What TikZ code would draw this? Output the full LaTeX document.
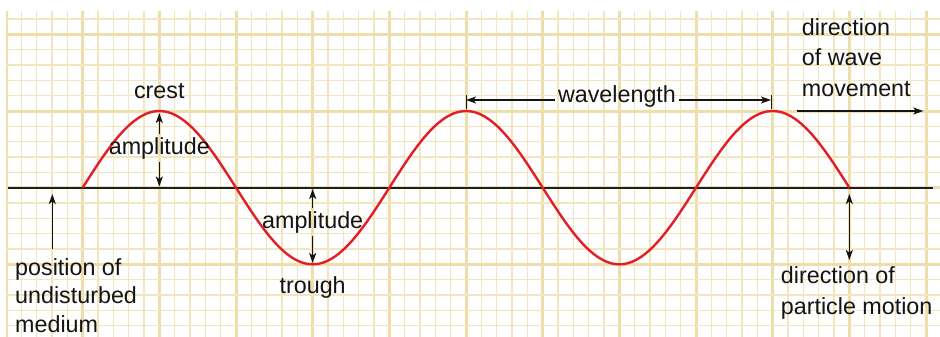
\documentclass[tikz,border=0pt]{standalone}
\usepackage{fontspec}
\setmainfont{Liberation Sans}
\usetikzlibrary{arrows.meta}
\definecolor{gridthin}{RGB}{241,230,190}
\definecolor{gridthick}{RGB}{237,222,172}
\definecolor{wavered}{RGB}{228,30,38}
\definecolor{axisgray}{RGB}{30,30,30}
\definecolor{txt}{RGB}{20,20,20}
\tikzset{
  lbl/.style={font=\fontsize{23.3}{30.5}\selectfont, text=txt, inner sep=3pt},
  arr/.style={-{Stealth[length=10pt,width=7pt,inset=2.5pt]}, line width=1.4pt, draw=txt},
  dblarr/.style={{Stealth[length=10pt,width=7pt,inset=2.5pt]}-{Stealth[length=10pt,width=7pt,inset=2.5pt]}, line width=1.4pt, draw=txt},
  tick/.style={line width=1pt, draw=txt},
}
\begin{document}
\begin{tikzpicture}[x=1pt,y=-1pt]
\useasboundingbox (0,0) rectangle (940,337);
\fill[white] (0,0) rectangle (940,337);
% grid
\begin{scope}
\clip (6,11) rectangle (940,337);
\foreach \k in {0,...,61} {
  \pgfmathsetmacro{\xx}{6+\k*15.3333}
  \pgfmathtruncatemacro{\m}{mod(\k,5)}
  \ifnum\m=0
    \draw[gridthick, line width=3pt] (\xx,11) -- (\xx,337);
  \else
    \draw[gridthin, line width=1.4pt] (\xx,11) -- (\xx,337);
  \fi
}
\foreach \k in {-6,...,15} {
  \pgfmathsetmacro{\yy}{111+\k*15.3333}
  \pgfmathtruncatemacro{\m}{mod(\k+10,5)}
  \ifnum\m=0
    \draw[gridthick, line width=3pt] (6,\yy) -- (940,\yy);
  \else
    \draw[gridthin, line width=1.4pt] (6,\yy) -- (940,\yy);
  \fi
}
\end{scope}
% axis
\coordinate (axL) at (8,187.67);
\coordinate (axR) at (933,187.67);
\draw[axisgray, line width=1.7pt] (axL) -- (axR);
% wave
\draw[wavered, line width=2.4pt, line join=round] plot[smooth, samples=241, domain=82.67:849.33] (\x, {187.67-76.67*sin((\x-82.67)/306.67*360)});
% crest / amplitude
\coordinate (crestpt) at (159.33,113);
\coordinate (axpt1) at (159.33,186.5);
\node[lbl, anchor=base] (crest) at (159.33,99) {crest};
\node[lbl, anchor=base] (amp1) at (159.33,154) {amplitude};
\draw[arr] (amp1.north) -- (crestpt);
\draw[arr] (amp1.south) -- (axpt1);
% trough / amplitude
\coordinate (axpt2) at (312.67,189);
\coordinate (troughpt) at (312.67,263);
\node[lbl, anchor=base] (amp2) at (312.67,228.3) {amplitude};
\node[lbl, anchor=base] (trough) at (312.67,293.5) {trough};
\draw[arr] (amp2.north) -- (axpt2);
\draw[arr] (amp2.south) -- (troughpt);
% wavelength
\coordinate (wlL) at (466,100);
\coordinate (wlR) at (771,100);
\coordinate (tkLt) at (466,95);
\coordinate (tkLb) at (466,109);
\coordinate (tkRt) at (771,95);
\coordinate (tkRb) at (771,109);
\draw[tick] (tkLt) -- (tkLb);
\draw[tick] (tkRt) -- (tkRb);
\node[lbl, anchor=mid] (wl) at (617,100) {wavelength};
\draw[arr] (wl.mid west) -- (wlL);
\draw[arr] (wl.mid east) -- (wlR);
% direction of wave movement
\node[lbl, anchor=base west, align=left, inner sep=0pt] (wavemove) at (801.7,96) {direction\\of wave\\movement};
\coordinate (wm1) at (796.7,111);
\coordinate (wm2) at (923.3,111);
\draw[arr] (wm1) -- (wm2);
% direction of particle motion
\coordinate (pm1) at (849.33,194);
\coordinate (pm2) at (849.33,260);
\draw[dblarr] (pm1) -- (pm2);
\node[lbl, anchor=base west, align=left, inner sep=0pt] (partmove) at (780.7,314.3) {direction of\\particle motion};
% position of undisturbed medium
\coordinate (ud1) at (52.3,249);
\coordinate (ud2) at (52.3,194);
\draw[arr] (ud1) -- (ud2);
\node[lbl, anchor=base west, align=left, inner sep=0pt, font=\fontsize{23.3}{28.5}\selectfont] (undist) at (15,332) {position of\\undisturbed\\medium};
\end{tikzpicture}
\end{document}
